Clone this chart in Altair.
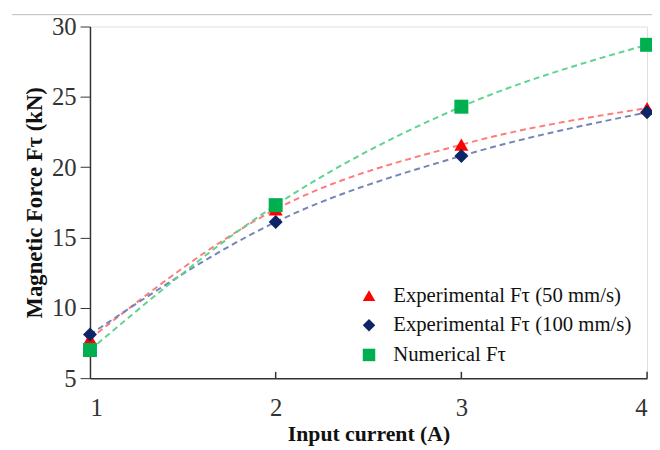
import altair as alt
import pandas as pd

current = [1, 2, 3, 4]
exp50 = [7.8, 17.0, 21.6, 24.2]
exp100 = [8.1, 16.1, 20.8, 23.9]
numerical = [7.0, 17.3, 24.3, 28.7]
series_names = ["Experimental F\u03c4 (50 mm/s)", "Experimental F\u03c4 (100 mm/s)", "Numerical F\u03c4"]
x_ticks = [1, 2, 3, 4]
y_ticks = [5, 10, 15, 20, 25, 30]

rows = []
for name, vals in zip(series_names, [exp50, exp100, numerical]):
    for c, v in zip(current, vals):
        rows.append({"current": c, "force": v, "series": name})
df = pd.DataFrame(rows)

font = "Liberation Serif"
xs = alt.Scale(domain=[1, 4], nice=False)
ys = alt.Scale(domain=[5, 30], nice=False)

x_axis = alt.Axis(values=x_ticks, format="d", title="Input current (A)", grid=False, ticks=False,
                  domainColor="#333", domainWidth=1.5, labelFont=font, labelFontSize=25,
                  labelColor="#333", labelPadding=18, titleFont=font, titleFontSize=22,
                  titleFontWeight="bold", titleColor="#111", titlePadding=3)
y_axis = alt.Axis(values=y_ticks, title="Magnetic Force F\u03c4 (kN)", grid=False,
                  tickSize=10, tickColor="#333", domainColor="#333", domainWidth=1.5,
                  labelFont=font, labelFontSize=25, labelColor="#333", labelPadding=4,
                  titleFont=font, titleFontSize=23, titleFontWeight="bold",
                  titleColor="#111", titlePadding=5)

light = ["#ff7b7b", "#7585b5", "#5fd38f"]
line_layers = []
for name, col in zip(series_names, light):
    line_layers.append(
        alt.Chart(df).transform_filter(alt.datum.series == name)
        .mark_line(strokeDash=[6, 4], strokeWidth=2, interpolate="monotone", color=col)
        .encode(x=alt.X("current:Q", scale=xs, axis=x_axis),
                y=alt.Y("force:Q", scale=ys, axis=y_axis))
    )

leg = dict(title=None, orient="none", legendX=272, legendY=262, labelFont=font,
           labelFontSize=21, labelColor="#111", labelLimit=0, symbolSize=160,
           rowPadding=8, labelOffset=14, symbolStrokeWidth=0, padding=0)

points = alt.Chart(df).mark_point(filled=True, opacity=1, size=200).encode(
    x=alt.X("current:Q", scale=xs, axis=x_axis),
    y=alt.Y("force:Q", scale=ys, axis=y_axis),
    color=alt.Color("series:N", scale=alt.Scale(domain=series_names,
                                                range=["#ff0000", "#0d2566", "#00b050"]),
                    legend=alt.Legend(**leg)),
    shape=alt.Shape("series:N", scale=alt.Scale(domain=series_names,
                                                range=["triangle-up", "diamond", "square"]),
                    legend=alt.Legend(**leg)),
)

xtick_df = pd.DataFrame({"current": x_ticks[1:], "lo": [5] * 3, "hi": [5.45] * 3})
xtick_marks = alt.Chart(xtick_df).mark_rule(color="#333", strokeWidth=1.5).encode(
    x=alt.X("current:Q", scale=xs), y=alt.Y("lo:Q", scale=ys), y2="hi:Q"
)

top_line = alt.Chart(pd.DataFrame({"a": [0]})).mark_rule(color="#bbb", strokeWidth=1).encode(
    x=alt.value(-79), x2=alt.value(575), y=alt.value(-12)
)

chart = alt.layer(*line_layers, points, xtick_marks, top_line).properties(
    width=564, height=356,
    autosize=alt.AutoSizeParams(type="none"),
    padding={"left": 83, "top": 16, "right": 5, "bottom": 70},
).configure_view(stroke=None).configure(background="white", font=font).configure_legend(
    labelFont=font
)

chart.save("out.html", embed_options={"renderer": "svg", "actions": False})
